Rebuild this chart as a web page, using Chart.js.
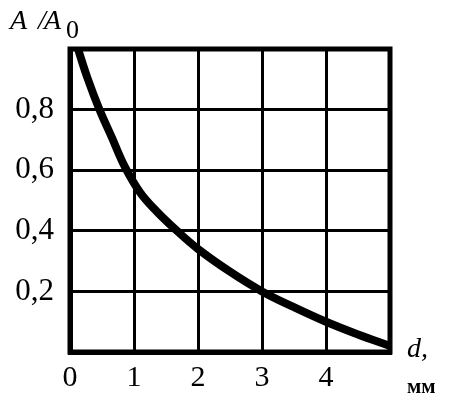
<!DOCTYPE html>
<html><head><meta charset="utf-8">
<script src="https://cdn.jsdelivr.net/npm/chart.js@4"></script>
<style>html,body{margin:0;padding:0;background:#fff}canvas{display:block}</style>
</head><body>
<canvas id="c" width="453" height="408"></canvas>
<script>
const dValues = [0.125, 0.27, 0.46, 0.65, 0.86, 1.1, 1.35, 1.67, 2.0, 2.5, 3.0, 3.5, 4.0, 4.5, 5.0];
const ratioValues = [1.0, 0.906, 0.8, 0.71, 0.61, 0.525, 0.465, 0.4, 0.34, 0.265, 0.2, 0.148, 0.1, 0.058, 0.02];
const xTickLabels = ['0', '1', '2', '3', '4', ''];
const yTickLabels = ['', '0,2', '0,4', '0,6', '0,8', ''];
const yTitle = ['A', '/', 'A', '0'];
const xTitle = ['d,', 'мм'];

const serif = '"Liberation Serif", "DejaVu Serif", serif';

const labelsPlugin = {
  id: 'labels',
  afterDraw(chart) {
    const ctx = chart.ctx;
    const a = chart.chartArea;
    ctx.save();
    ctx.fillStyle = '#000';
    ctx.textBaseline = 'alphabetic';
    ctx.textAlign = 'left';
    // y title
    ctx.font = 'italic 28px ' + serif;
    ctx.fillText(yTitle[0], 10, 29);
    ctx.fillText(yTitle[1], 38, 29);
    ctx.fillText(yTitle[2], 44, 29);
    ctx.font = '26px ' + serif;
    ctx.fillText(yTitle[3], 66, 38);
    // x title
    ctx.font = 'italic 28px ' + serif;
    ctx.fillText(xTitle[0], a.right + 17, a.bottom + 5);
    ctx.font = 'bold 21px ' + serif;
    ctx.fillText(xTitle[1], a.right + 17, a.bottom + 41);
    ctx.restore();
  }
};

new Chart(document.getElementById('c'), {
  type: 'scatter',
  data: {
    datasets: [{
      data: dValues.map((d, i) => ({x: d, y: ratioValues[i]})),
      showLine: true,
      borderColor: '#000',
      borderWidth: 8,
      pointRadius: 0,
      tension: 0.4,
      borderCapStyle: 'butt'
    }]
  },
  options: {
    responsive: false,
    animation: false,
    events: [],
    layout: {padding: {top: 49, right: 63, left: 0, bottom: 0}},
    plugins: {legend: {display: false}, tooltip: {enabled: false}},
    scales: {
      x: {
        type: 'linear', min: 0, max: 5,
        afterFit(s) { s.height = 56; },
        border: {display: true, color: '#000', width: 5},
        grid: {color: '#000', lineWidth: 3, drawTicks: false},
        ticks: {
          stepSize: 1, padding: 8, color: '#000',
          font: {family: serif, size: 30},
          callback: (v, i) => xTickLabels[i],
          maxRotation: 0
        }
      },
      y: {
        type: 'linear', min: 0, max: 1,
        afterFit(s) { s.width = 70; },
        border: {display: true, color: '#000', width: 5},
        grid: {color: '#000', lineWidth: 3, drawTicks: false},
        ticks: {
          stepSize: 0.2, padding: 16, color: '#000',
          font: {family: serif, size: 31},
          callback: (v, i) => yTickLabels[i]
        }
      }
    }
  },
  plugins: [labelsPlugin, {
    id: 'frame',
    afterDatasetsDraw(chart) {
      const ctx = chart.ctx, a = chart.chartArea;
      ctx.save();
      ctx.strokeStyle = '#000';
      ctx.lineWidth = 5;
      ctx.strokeRect(a.left, a.top, a.right - a.left, a.bottom - a.top);
      ctx.restore();
    }
  }]
});
</script>
</body></html>
